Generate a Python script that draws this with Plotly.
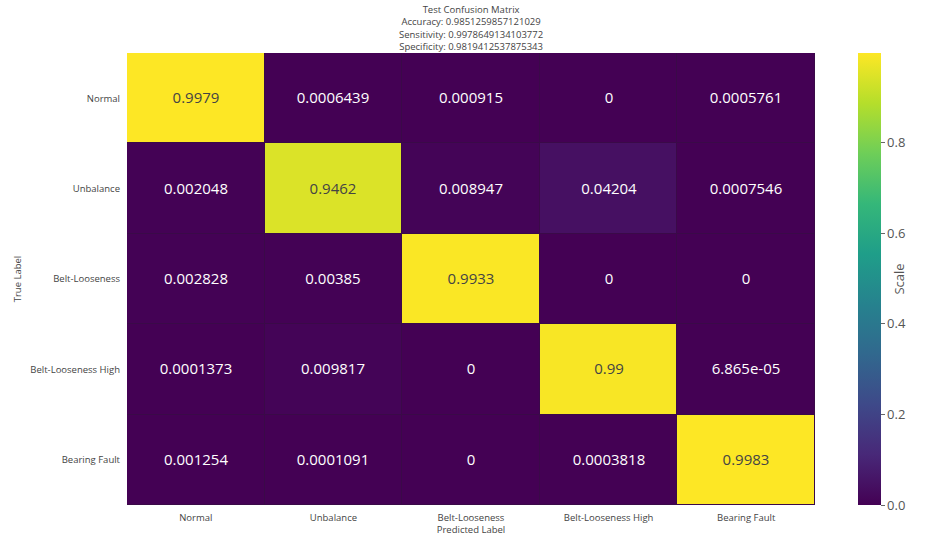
import plotly.graph_objects as go

# Class names shared by both axes
labels = ["Normal", "Unbalance", "Belt-Looseness", "Belt-Looseness High", "Bearing Fault"]

# Normalised confusion matrix rows (true label) x columns (predicted label)
row_normal = [0.9979, 0.0006439, 0.000915, 0, 0.0005761]
row_unbalance = [0.002048, 0.9462, 0.008947, 0.04204, 0.0007546]
row_belt = [0.002828, 0.00385, 0.9933, 0, 0]
row_belt_high = [0.0001373, 0.009817, 0, 0.99, 6.865e-05]
row_bearing = [0.001254, 0.0001091, 0, 0.0003818, 0.9983]

accuracy = "0.9851259857121029"
sensitivity = "0.9978649134103772"
specificity = "0.9819412537875343"

z = [row_normal, row_unbalance, row_belt, row_belt_high, row_bearing]
cell_text = [[f"{v:.4g}" for v in row] for row in z]

fig = go.Figure(
    go.Heatmap(
        z=z,
        x=labels,
        y=labels,
        text=cell_text,
        texttemplate="%{text}",
        textfont=dict(size=15),
        colorscale="Viridis",
        zmin=0,
        xgap=1,
        ygap=1,
        colorbar=dict(
            title=dict(text="Scale", side="right", font=dict(size=13, color="#555")),
            thickness=23,
            len=1.0,
            x=1.0625,
            xanchor="left",
            xpad=0,
            ypad=0,
            ticks="outside",
            ticklen=4,
            tickcolor="#666",
            tickvals=[0, 0.2, 0.4, 0.6, 0.8],
            tickformat=".1f",
            tickfont=dict(size=13, color="#555"),
            outlinewidth=0,
        ),
    )
)

# Multi-line heading above the matrix
heading = "<br>".join([
    "Test Confusion Matrix",
    f"Accuracy: {accuracy}",
    f"Sensitivity: {sensitivity}",
    f"Specificity: {specificity}",
])
fig.add_annotation(
    text=heading,
    xref="paper",
    yref="paper",
    x=0.5,
    y=1,
    xanchor="center",
    yanchor="middle",
    yshift=25,
    showarrow=False,
    borderpad=0,
    font=dict(size=9.5, color="#444"),
)

fig.update_layout(
    width=926,
    height=536,
    margin=dict(l=127, r=111, t=53, b=31, autoexpand=False),
    paper_bgcolor="white",
    plot_bgcolor="#3a0a48",
    font=dict(family="Open Sans, Arial, sans-serif"),
)

fig.update_xaxes(
    title=dict(text="Predicted Label", font=dict(size=9.5, color="#444"), standoff=0),
    tickfont=dict(size=9.5, color="#444"),
    ticklabelstandoff=5,
    showgrid=False,
    zeroline=False,
)
fig.update_yaxes(
    title=dict(text="True Label", font=dict(size=9.5, color="#444"), standoff=7),
    tickfont=dict(size=9.5, color="#444"),
    ticklabelstandoff=6,
    autorange="reversed",
    showgrid=False,
    zeroline=False,
)

fig.write_html("out.html")
